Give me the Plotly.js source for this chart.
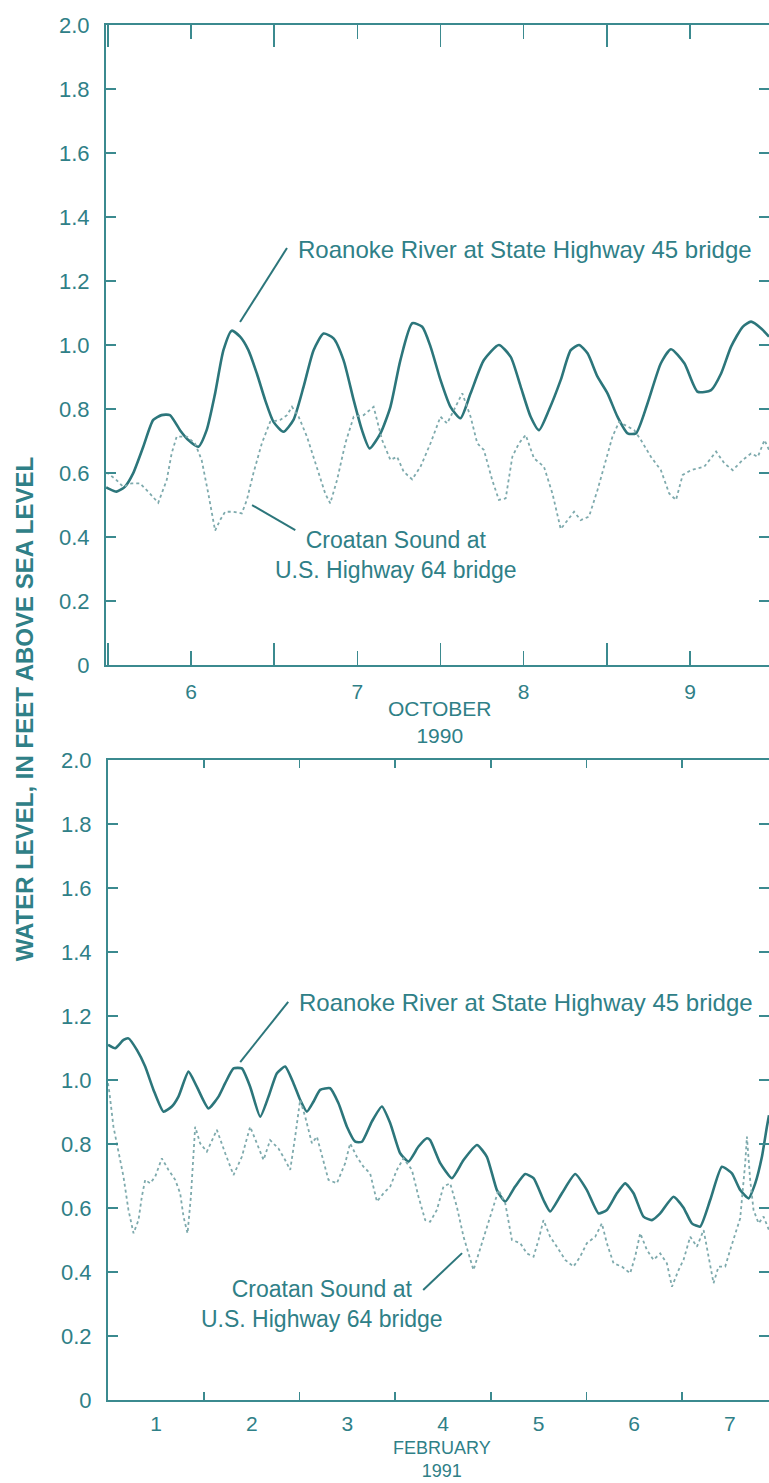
<!DOCTYPE html>
<html>
<head>
<meta charset="utf-8">
<script src="https://cdn.plot.ly/plotly-3.0.1.min.js"></script>
<style>
  html, body { margin: 0; padding: 0; background: #ffffff; }
  #chart { width: 769px; height: 1483px; }
</style>
</head>
<body>
<div id="chart"></div>
<script>
// ---------- October 1990 (top panel) ----------
const octRoanokeX = [5.49,5.502,5.552,5.602,5.652,5.713,5.773,5.823,5.873,5.934,5.984,6.044,6.094,6.145,6.195,6.245,6.295,6.345,6.396,6.446,6.496,6.556,6.616,6.677,6.737,6.797,6.857,6.917,6.978,7.028,7.074,7.139,7.199,7.259,7.330,7.390,7.440,7.500,7.560,7.620,7.681,7.761,7.851,7.922,7.982,8.042,8.092,8.152,8.223,8.283,8.333,8.384,8.444,8.504,8.564,8.625,8.675,8.745,8.825,8.886,8.966,9.046,9.127,9.187,9.247,9.317,9.367,9.428,9.475];
const octRoanokeY = [0.555,0.552,0.542,0.557,0.599,0.682,0.766,0.781,0.781,0.734,0.703,0.682,0.734,0.849,0.984,1.045,1.026,0.984,0.911,0.828,0.760,0.729,0.766,0.870,0.984,1.036,1.021,0.953,0.828,0.734,0.677,0.724,0.807,0.953,1.068,1.057,0.995,0.891,0.807,0.771,0.849,0.953,1.000,0.963,0.870,0.776,0.734,0.797,0.891,0.984,1.000,0.974,0.901,0.849,0.776,0.724,0.724,0.818,0.943,0.987,0.943,0.854,0.859,0.911,0.995,1.057,1.073,1.052,1.026];

const octCroatanX = [5.49,5.502,5.552,5.592,5.643,5.693,5.753,5.803,5.854,5.884,5.914,5.974,6.024,6.064,6.104,6.145,6.175,6.205,6.255,6.305,6.336,6.375,6.426,6.476,6.536,6.577,6.607,6.647,6.697,6.757,6.807,6.837,6.878,6.928,6.978,7.038,7.098,7.149,7.199,7.239,7.279,7.330,7.380,7.440,7.500,7.540,7.590,7.631,7.681,7.721,7.761,7.811,7.851,7.892,7.932,7.972,8.012,8.062,8.122,8.173,8.223,8.263,8.303,8.343,8.393,8.444,8.494,8.534,8.574,8.625,8.665,8.705,8.765,8.825,8.875,8.916,8.956,9.006,9.086,9.157,9.207,9.257,9.317,9.367,9.408,9.448,9.475];
const octCroatanY = [0.60,0.599,0.578,0.557,0.568,0.568,0.536,0.507,0.578,0.662,0.714,0.714,0.693,0.641,0.536,0.420,0.453,0.479,0.479,0.474,0.516,0.599,0.693,0.760,0.766,0.781,0.807,0.776,0.714,0.620,0.536,0.505,0.578,0.693,0.776,0.781,0.807,0.703,0.641,0.651,0.604,0.580,0.620,0.693,0.776,0.755,0.807,0.849,0.776,0.693,0.672,0.578,0.516,0.521,0.651,0.693,0.719,0.646,0.620,0.536,0.425,0.453,0.479,0.453,0.464,0.547,0.641,0.714,0.760,0.745,0.734,0.703,0.651,0.609,0.536,0.516,0.594,0.609,0.620,0.667,0.630,0.609,0.641,0.661,0.651,0.703,0.672];

// ---------- February 1991 (bottom panel) ----------
const febRoanokeX = [0.496,0.501,0.571,0.658,0.710,0.798,0.885,0.972,1.076,1.164,1.233,1.338,1.425,1.547,1.652,1.722,1.809,1.896,1.983,2.088,2.175,2.263,2.349,2.436,2.506,2.576,2.645,2.715,2.820,2.907,2.995,3.082,3.152,3.256,3.361,3.448,3.552,3.639,3.744,3.832,3.866,3.971,4.093,4.215,4.355,4.459,4.564,4.651,4.755,4.860,4.947,5.051,5.121,5.244,5.383,5.505,5.627,5.714,5.819,5.906,5.993,6.097,6.185,6.272,6.411,6.516,6.603,6.690,6.795,6.917,7.022,7.109,7.196,7.266,7.336,7.388,7.41];
const febRoanokeY = [1.11,1.109,1.099,1.125,1.130,1.094,1.042,0.969,0.901,0.917,0.948,1.026,0.979,0.911,0.948,0.990,1.036,1.036,0.979,0.885,0.948,1.021,1.042,0.990,0.938,0.901,0.932,0.969,0.974,0.927,0.854,0.807,0.807,0.870,0.917,0.865,0.771,0.745,0.792,0.818,0.812,0.740,0.693,0.750,0.797,0.760,0.656,0.620,0.667,0.706,0.693,0.625,0.589,0.646,0.706,0.656,0.583,0.594,0.646,0.677,0.646,0.573,0.562,0.583,0.635,0.601,0.552,0.542,0.625,0.729,0.708,0.656,0.630,0.677,0.760,0.854,0.890];

const febCroatanX = [0.496,0.512,0.553,0.606,0.658,0.710,0.763,0.815,0.850,0.885,0.937,0.990,1.059,1.129,1.199,1.251,1.286,1.328,1.363,1.408,1.460,1.530,1.635,1.722,1.809,1.896,1.983,2.053,2.123,2.192,2.279,2.349,2.402,2.454,2.506,2.559,2.629,2.681,2.750,2.802,2.890,2.977,3.029,3.099,3.168,3.238,3.309,3.378,3.448,3.518,3.587,3.675,3.744,3.814,3.866,3.936,4.005,4.075,4.145,4.215,4.319,4.407,4.494,4.581,4.651,4.721,4.808,4.877,4.947,4.999,5.051,5.121,5.191,5.278,5.365,5.435,5.505,5.592,5.662,5.714,5.784,5.871,5.958,6.010,6.063,6.133,6.202,6.272,6.342,6.395,6.464,6.516,6.586,6.656,6.726,6.795,6.830,6.882,6.952,7.004,7.057,7.109,7.161,7.179,7.213,7.248,7.301,7.353,7.41];
const febCroatanY = [0.99,0.958,0.854,0.771,0.698,0.594,0.521,0.562,0.635,0.688,0.677,0.698,0.755,0.719,0.688,0.646,0.573,0.521,0.635,0.854,0.802,0.776,0.844,0.771,0.703,0.760,0.854,0.802,0.750,0.812,0.786,0.750,0.719,0.823,0.938,0.885,0.802,0.823,0.750,0.688,0.677,0.740,0.802,0.760,0.729,0.708,0.620,0.646,0.667,0.719,0.755,0.719,0.635,0.562,0.557,0.594,0.667,0.677,0.604,0.510,0.406,0.490,0.573,0.656,0.615,0.500,0.490,0.458,0.448,0.500,0.562,0.510,0.479,0.438,0.417,0.448,0.490,0.510,0.552,0.490,0.427,0.417,0.396,0.448,0.521,0.469,0.438,0.458,0.427,0.354,0.406,0.438,0.510,0.479,0.531,0.427,0.365,0.417,0.417,0.469,0.521,0.568,0.740,0.823,0.688,0.594,0.552,0.573,0.531];

// ---------- ticks and labels ----------
const yTickVals = [0, 0.2, 0.4, 0.6, 0.8, 1.0, 1.2, 1.4, 1.6, 1.8, 2.0];
const yTickText = ['0', '0.2', '0.4', '0.6', '0.8', '1.0', '1.2', '1.4', '1.6', '1.8', '2.0'];
const octDays = [6, 7, 8, 9];
const octDayText = ['6', '7', '8', '9'];
const febDays = [1, 2, 3, 4, 5, 6, 7];
const febDayText = ['1', '2', '3', '4', '5', '6', '7'];
const seriesNames = ['Roanoke River at State Highway 45 bridge', 'Croatan Sound at<br>U.S. Highway 64 bridge'];
const periodLabels = ['OCTOBER<br>1990', 'FEBRUARY<br>1991'];
const yTitle = 'WATER LEVEL, IN FEET ABOVE SEA LEVEL';

const TEAL_LINE = '#2c767b';
const TEAL_DOT = '#7eaaad';
const TEAL_TEXT = '#2f8087';
const TEAL_AXIS = '#3b8a8f';
const FONT = '"Liberation Sans", Arial, Helvetica, sans-serif';

const traces = [
  {x: octRoanokeX, y: octRoanokeY, xaxis: 'x', yaxis: 'y', mode: 'lines', name: 'Roanoke (Oct)',
   line: {color: TEAL_LINE, width: 2.6, shape: 'spline', smoothing: 0.6}},
  {x: octCroatanX, y: octCroatanY, xaxis: 'x', yaxis: 'y', mode: 'lines', name: 'Croatan (Oct)',
   line: {color: TEAL_DOT, width: 1.8, dash: 'dot'}},
  {x: febRoanokeX, y: febRoanokeY, xaxis: 'x2', yaxis: 'y2', mode: 'lines', name: 'Roanoke (Feb)',
   line: {color: TEAL_LINE, width: 2.6, shape: 'spline', smoothing: 0.5}},
  {x: febCroatanX, y: febCroatanY, xaxis: 'x2', yaxis: 'y2', mode: 'lines', name: 'Croatan (Feb)',
   line: {color: TEAL_DOT, width: 1.8, dash: 'dot'}}
];

const yAxisCommon = {
  range: [0, 2.0], tickmode: 'array', tickvals: yTickVals, ticktext: yTickText,
  ticks: 'inside', ticklen: 10, tickwidth: 1.5, tickcolor: TEAL_AXIS,
  showline: true, linecolor: TEAL_AXIS, linewidth: 2, mirror: 'ticks',
  showgrid: false, zeroline: false, ticklabelstandoff: 10,
  tickfont: {family: FONT, size: 22, color: TEAL_TEXT}, fixedrange: true
};

const layout = {
  width: 769, height: 1483,
  margin: {l: 106, r: 0, t: 25, b: 83},
  paper_bgcolor: '#ffffff', plot_bgcolor: '#ffffff',
  showlegend: false,
  font: {family: FONT, color: TEAL_TEXT},
  xaxis: {
    domain: [0, 1], anchor: 'y', range: [5.489, 9.475],
    tickmode: 'array', tickvals: octDays, ticktext: octDayText,
    ticks: 'inside', ticklen: 14, tickwidth: 1.5, tickcolor: TEAL_AXIS,
    minor: {tickmode: 'linear', tick0: 5.5, dtick: 1, ticks: 'inside', ticklen: 22, tickwidth: 1.5, tickcolor: TEAL_AXIS},
    showline: true, linecolor: TEAL_AXIS, linewidth: 2, mirror: 'ticks',
    showgrid: false, zeroline: false, ticklabelstandoff: 7,
    tickfont: {family: FONT, size: 21, color: TEAL_TEXT}, fixedrange: true
  },
  yaxis: Object.assign({}, yAxisCommon, {domain: [0.5345, 1], anchor: 'x'}),
  xaxis2: {
    domain: [0.003, 1], anchor: 'y2', range: [0.496, 7.41],
    tickmode: 'array', tickvals: febDays, ticktext: febDayText,
    ticks: 'inside', ticklen: 1, tickcolor: 'rgba(0,0,0,0)',
    minor: {tickmode: 'linear', tick0: 0.5, dtick: 1, ticks: 'inside', ticklen: 8, tickwidth: 1.5, tickcolor: TEAL_AXIS},
    showline: true, linecolor: TEAL_AXIS, linewidth: 2, mirror: 'ticks',
    showgrid: false, zeroline: false, ticklabelstandoff: 4,
    tickfont: {family: FONT, size: 21, color: TEAL_TEXT}, fixedrange: true
  },
  yaxis2: Object.assign({}, yAxisCommon, {domain: [0, 0.4655], anchor: 'x2'}),
  shapes: [
    {type: 'line', xref: 'x', yref: 'y', x0: 6.577, y0: 1.303, x1: 6.295, y1: 1.072, line: {color: TEAL_LINE, width: 2}},
    {type: 'line', xref: 'x', yref: 'y', x0: 6.367, y0: 0.500, x1: 6.627, y1: 0.422, line: {color: TEAL_LINE, width: 2}},
    {type: 'line', xref: 'x2', yref: 'y2', x0: 2.381, y0: 1.244, x1: 1.879, y1: 1.056, line: {color: TEAL_LINE, width: 2}},
    {type: 'line', xref: 'x2', yref: 'y2', x0: 3.793, y0: 0.344, x1: 4.200, y1: 0.459, line: {color: TEAL_LINE, width: 2}}
  ],
  annotations: [
    {xref: 'x', yref: 'y', x: 6.63, y: 1.30, text: seriesNames[0], showarrow: false,
     xanchor: 'left', yanchor: 'middle', font: {family: FONT, size: 24, color: TEAL_TEXT}},
    {xref: 'x', yref: 'y', x: 7.235, y: 0.345, text: seriesNames[1], showarrow: false, align: 'center',
     xanchor: 'center', yanchor: 'middle', font: {family: FONT, size: 23, color: TEAL_TEXT}},
    {xref: 'x2', yref: 'y2', x: 2.473, y: 1.241, text: seriesNames[0], showarrow: false,
     xanchor: 'left', yanchor: 'middle', font: {family: FONT, size: 24, color: TEAL_TEXT}},
    {xref: 'x2', yref: 'y2', x: 2.734, y: 0.300, text: seriesNames[1], showarrow: false, align: 'center',
     xanchor: 'center', yanchor: 'middle', font: {family: FONT, size: 23, color: TEAL_TEXT}},
    {xref: 'x', yref: 'paper', x: 7.491, y: 0.4931, text: periodLabels[0], showarrow: false, align: 'center',
     xanchor: 'center', yanchor: 'middle', font: {family: FONT, size: 21, color: TEAL_TEXT}},
    {xref: 'x2', yref: 'paper', x: 3.99, y: -0.0593, text: periodLabels[1], showarrow: false, align: 'center',
     xanchor: 'center', yanchor: 'bottom', borderpad: 0, font: {family: FONT, size: 18, color: TEAL_TEXT}},
    {xref: 'paper', yref: 'paper', x: -0.1237, y: 0.503, text: '<b>' + yTitle + '</b>',
     textangle: -90, showarrow: false, xanchor: 'center', yanchor: 'middle',
     font: {family: FONT, size: 24, color: TEAL_TEXT}}
  ]
};

Plotly.newPlot('chart', traces, layout, {displayModeBar: false, staticPlot: true});
</script>
</body>
</html>
